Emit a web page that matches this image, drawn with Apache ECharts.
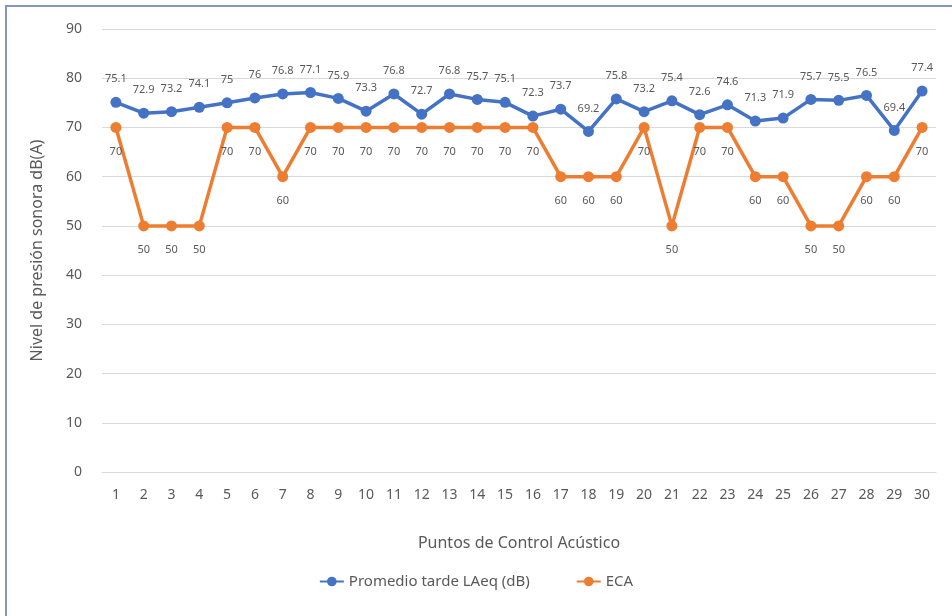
<!DOCTYPE html>
<html>
<head>
<meta charset="utf-8">
<script src="https://cdn.jsdelivr.net/npm/echarts@6/dist/echarts.min.js"></script>
<style>
  html, body { margin: 0; padding: 0; background: #fff; }
  #frame { position: absolute; left: 5px; top: 5px; width: 947px; height: 611px;
           border-left: 2px solid #8796b8; border-top: 2px solid #8796b8; box-sizing: border-box; }
  #chart { position: absolute; left: 0; top: 0; width: 952px; height: 616px; }
</style>
</head>
<body>
<div id="frame"></div>
<div id="chart"></div>
<script>
const puntos = ['1','2','3','4','5','6','7','8','9','10','11','12','13','14','15','16','17','18','19','20','21','22','23','24','25','26','27','28','29','30']
const promedioTarde = [75.1, 72.9, 73.2, 74.1, 75, 76, 76.8, 77.1, 75.9, 73.3, 76.8, 72.7, 76.8, 75.7, 75.1, 72.3, 73.7, 69.2, 75.8, 73.2, 75.4, 72.6, 74.6, 71.3, 71.9, 75.7, 75.5, 76.5, 69.4, 77.4]
const eca = [70, 50, 50, 50, 70, 70, 60, 70, 70, 70, 70, 70, 70, 70, 70, 70, 60, 60, 60, 70, 50, 70, 70, 60, 60, 50, 50, 60, 60, 70]
const yTicks = [0, 10, 20, 30, 40, 50, 60, 70, 80, 90]

const FONT = 'Noto Sans'
const GREY = '#595959'

const chart = echarts.init(document.getElementById('chart'))

chart.setOption({
  animation: false,
  textStyle: { fontFamily: FONT },
  grid: { left: 102, right: 16, top: 29, bottom: 144, containLabel: false },
  legend: {
    bottom: 22,
    left: 'center',
    itemWidth: 24,
    itemHeight: 12,
    itemGap: 46,
    textStyle: { color: GREY, fontSize: 15, fontFamily: FONT },
    data: ['Promedio tarde LAeq (dB)', 'ECA']
  },
  xAxis: {
    type: 'category',
    data: puntos,
    boundaryGap: true,
    name: 'Puntos de Control Acústico',
    nameLocation: 'middle',
    nameGap: 63,
    nameTextStyle: { color: GREY, fontSize: 16 },
    axisLine: { lineStyle: { color: '#d9d9d9' } },
    axisTick: { show: false },
    axisLabel: { color: GREY, fontSize: 14, margin: 16, interval: 0 }
  },
  yAxis: {
    type: 'value',
    min: yTicks[0],
    max: yTicks[yTicks.length - 1],
    interval: 10,
    name: 'Nivel de presión sonora dB(A)',
    nameLocation: 'middle',
    nameGap: 57,
    nameTextStyle: { color: GREY, fontSize: 16 },
    axisLine: { show: false },
    axisTick: { show: false },
    axisLabel: { color: GREY, fontSize: 14, margin: 20 },
    splitLine: { lineStyle: { color: '#d9d9d9', width: 1 } }
  },
  series: [
    {
      name: 'Promedio tarde LAeq (dB)',
      type: 'line',
      data: promedioTarde,
      symbol: 'circle',
      symbolSize: 11,
      itemStyle: { color: '#4472C4' },
      lineStyle: { color: '#4472C4', width: 3.5 },
      label: { show: true, position: 'top', distance: 12, color: GREY, fontSize: 11 },
      z: 3
    },
    {
      name: 'ECA',
      type: 'line',
      data: eca,
      symbol: 'circle',
      symbolSize: 11,
      itemStyle: { color: '#ED7D31' },
      lineStyle: { color: '#ED7D31', width: 3.5 },
      label: { show: true, position: 'bottom', distance: 13, color: GREY, fontSize: 11 },
      z: 2
    }
  ]
})
</script>
</body>
</html>
